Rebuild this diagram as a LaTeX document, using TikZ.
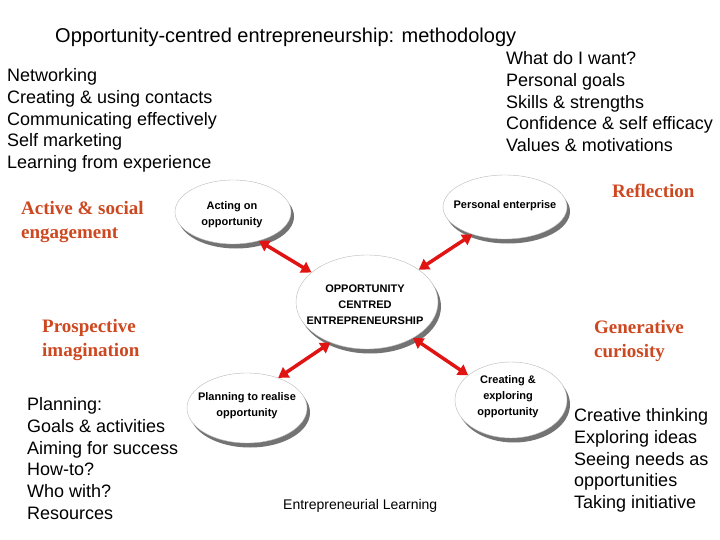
\documentclass[tikz,border=0pt]{standalone}
\usepackage{fontspec}
\setmainfont{Liberation Sans}
\newfontfamily\serifb{Liberation Serif}
\usetikzlibrary{shapes.geometric,shadows,arrows.meta}
\definecolor{lbl}{RGB}{205,72,32}
\definecolor{arr}{RGB}{225,20,20}
\begin{document}
\begin{tikzpicture}[x=1pt,y=-1pt,
 every node/.style={inner sep=0pt},
 listtxt/.style={anchor=north west,align=left,font=\fontsize{18}{21.7}\selectfont},
 orangetxt/.style={anchor=north west,align=left,text=lbl,font=\serifb\bfseries\fontsize{19}{24}\selectfont},
 bubble/.style={ellipse,draw=gray!55,line width=0.4pt,fill=white,
   drop shadow={shadow xshift=3pt,shadow yshift=-4.5pt,fill=gray!90!black,opacity=1}},
 bubtxt/.style={align=center,font=\bfseries\fontsize{11}{16}\selectfont},
 link/.style={{Triangle[length=10pt,width=12pt]}-{Triangle[length=10pt,width=12pt]},draw=arr,line width=3.5pt}
]
\useasboundingbox[fill=white] (0,0) rectangle (720,540);

\node[anchor=north west,font=\fontsize{20}{24}\selectfont] (title) at (55,28) {Opportunity-centred entrepreneurship: methodology};

\node[listtxt] (netw) at (7,68.5) {Networking\\Creating \& using contacts\\Communicating effectively\\Self marketing\\Learning from experience};
\node[listtxt] (goals) at (506,51.5) {What do I want?\\Personal goals\\Skills \& strengths\\Confidence \& self efficacy\\Values \& motivations};
\node[listtxt] (plan) at (27,397.5) {Planning:\\Goals \& activities\\Aiming for success\\How-to?\\Who with?\\Resources};
\node[listtxt] (creat) at (574,408.5) {Creative thinking\\Exploring ideas\\Seeing needs as\\opportunities\\Taking initiative};

\node[orangetxt] (refl) at (612,183.5) {Reflection};
\node[orangetxt] (active) at (21,201.5) {Active \& social\\engagement};
\node[orangetxt] (prosp) at (42,319.5) {Prospective\\imagination};
\node[orangetxt] (gener) at (594,320.5) {Generative\\curiosity};

\node[anchor=north west,font=\fontsize{14}{16}\selectfont] (el) at (283,499) {Entrepreneurial Learning};

\node[bubble,minimum width=116pt,minimum height=64pt] (acting) at (233,212) {};
\node[bubtxt] (actingtxt) at (232,215) {Acting on\\opportunity};
\node[bubble,minimum width=124pt,minimum height=64pt] (personal) at (505,207) {};
\node[bubtxt] (personaltxt) at (505,206) {Personal enterprise};
\node[bubble,minimum width=142pt,minimum height=94pt] (central) at (367,302) {};
\node[bubtxt] (centraltxt) at (365,305) {OPPORTUNITY\\CENTRED\\ENTREPRENEURSHIP};
\node[bubble,minimum width=120pt,minimum height=70pt] (planning) at (247,408) {};
\node[bubtxt] (planningtxt) at (247,406) {Planning to realise\\opportunity};
\node[bubble,minimum width=112pt,minimum height=76pt] (creating) at (511,400) {};
\node[bubtxt] (creatingtxt) at (508,397) {Creating \&\\exploring\\opportunity};

\draw[link] (acting.-48) -- (central.152);
\draw[link] (personal.220) -- (central.32);
\draw[link] (planning.44) -- (central.228);
\draw[link] (creating.150) -- (central.-38);
\end{tikzpicture}
\end{document}
